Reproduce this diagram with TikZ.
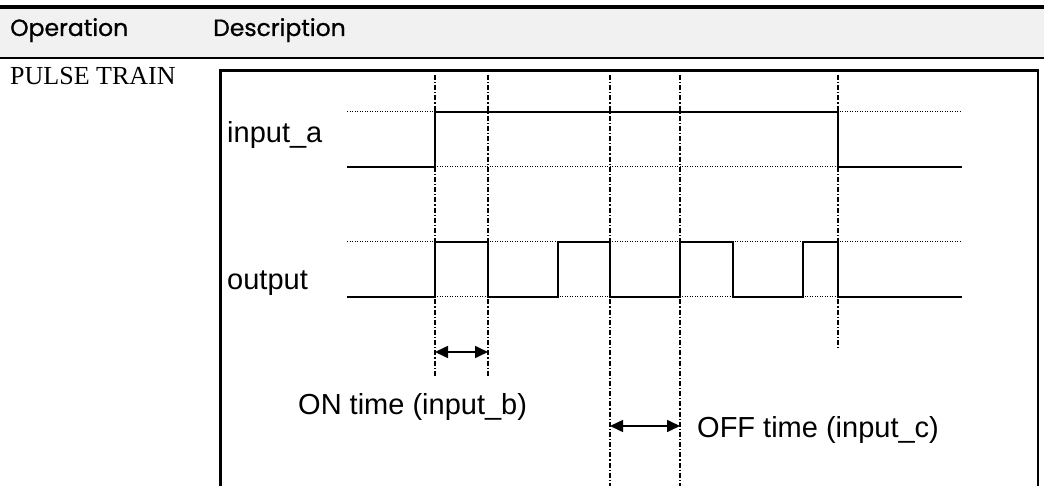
\documentclass[tikz,border=0pt]{standalone}
\usepackage{fontspec}
\setmainfont{Liberation Sans}
\newfontfamily\hdrfont{Poppins}[FakeBold=0.9]
\newfontfamily\timesfont{Liberation Serif}
\usetikzlibrary{arrows.meta}
\definecolor{hdrgrey}{HTML}{F1F1F1}
\tikzset{
  lbl/.style={inner sep=0pt, anchor=base west, font=\fontsize{29}{29}\selectfont},
  hdr/.style={inner sep=0pt, anchor=base west, font=\hdrfont\fontsize{23.5}{23.5}\selectfont},
  optext/.style={inner sep=0pt, anchor=base west, font=\timesfont\fontsize{26}{26}\selectfont},
  sig/.style={line width=2.2pt, line join=miter},
  refline/.style={line width=1pt, dash pattern=on 1pt off 1.5pt},
  marker/.style={line width=1.1pt, dash pattern=on 5pt off 2pt on 1.2pt off 2pt},
  span/.style={line width=1.6pt, {Triangle[length=13pt,width=12pt]}-{Triangle[length=13pt,width=12pt]}},
  frame/.style={line width=2.5pt},
}
\begin{document}
\begin{tikzpicture}[x=1pt,y=-1pt]
\useasboundingbox (0,0) rectangle (1044,486);
\clip (0,0) rectangle (1044,486);
% header
\fill[hdrgrey] (0,9) rectangle (1044,57);
\draw[line width=4pt] (0,7) -- (1044,7);
\draw[line width=2pt] (0,58) -- (1044,58);
\node[hdr] (hop) at (10,36) {Operation};
\node[hdr] (hdesc) at (213,36) {Description};
\node[optext] (op) at (10,85) {PULSE TRAIN};
% frame
\draw[frame] (220.5,70.5) rectangle (1038,520);
% labels
\node[lbl] (la) at (227,143) {input\_a};
\node[lbl] (lo) at (227,290) {output};
% reference dotted lines
\draw[refline] (347,112) -- (962,112);
\draw[refline] (347,167) -- (962,167);
\draw[refline] (347,242) -- (962,242);
\draw[refline] (347,297) -- (962,297);
% markers
\coordinate (m1t) at (435,75); \coordinate (m1b) at (435,377);
\coordinate (m2t) at (488,75); \coordinate (m2b) at (488,377);
\coordinate (m3t) at (610,75); \coordinate (m3b) at (610,490);
\coordinate (m4t) at (680,75); \coordinate (m4b) at (680,490);
\coordinate (m5t) at (838,75); \coordinate (m5b) at (838,348);
\draw[marker] (m1t) -- (m1b);
\draw[marker] (m2t) -- (m2b);
\draw[marker] (m3t) -- (m3b);
\draw[marker] (m4t) -- (m4b);
\draw[marker] (m5t) -- (m5b);
% input_a
\draw[sig] (347,167) -- (435,167) -- (435,112) -- (838,112) -- (838,167) -- (962,167);
% output
\draw[sig] (347,297) -- (435,297) -- (435,242) -- (488,242) -- (488,297) -- (558,297)
  -- (558,242) -- (610,242) -- (610,297) -- (680,297) -- (680,242) -- (733,242)
  -- (733,297) -- (803,297) -- (803,242) -- (838,242) -- (838,297) -- (962,297);
% spans
\coordinate (ona) at (435,352); \coordinate (onb) at (488,352);
\coordinate (offa) at (610,426); \coordinate (offb) at (680,426);
\draw[span] (ona) -- (onb);
\draw[span] (offa) -- (offb);
\node[lbl] (ontxt) at (298,414) {ON time (input\_b)};
\node[lbl] (offtxt) at (697,437) {OFF time (input\_c)};
\end{tikzpicture}
\end{document}
